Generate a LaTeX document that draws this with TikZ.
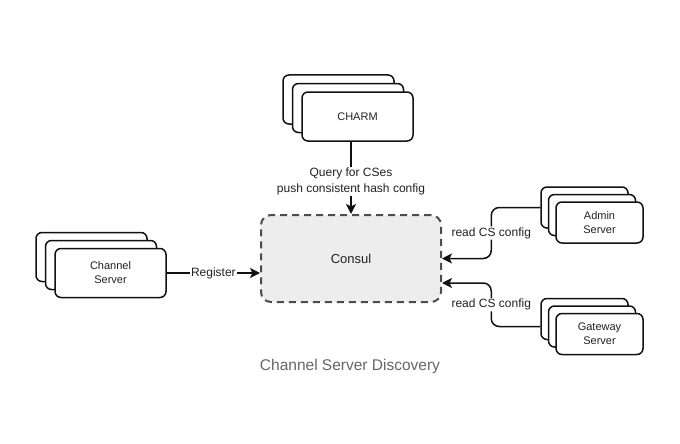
\documentclass[tikz,border=0pt]{standalone}
\usepackage{fontspec}
\setmainfont{Liberation Sans}
\usetikzlibrary{arrows.meta,calc}
\definecolor{txt}{HTML}{222222}
\definecolor{edge}{HTML}{111111}
\begin{document}
\begin{tikzpicture}[x=1pt,y=-1pt,
 box/.style={draw=edge, line width=1.5pt, fill=white, rounded corners=6pt,
   minimum width=111pt, minimum height=49pt, inner sep=0pt, text=txt,
   font=\fontsize{11}{14}\selectfont, align=center},
 sbox/.style={box, minimum width=87pt, minimum height=41pt},
 arr/.style={draw=edge, line width=1.5pt, -{Stealth[length=10pt,width=10pt,inset=2.5pt]}},
 lbl/.style={fill=white, inner sep=1pt, text=txt, font=\fontsize{12}{16}\selectfont, align=center}
]
\useasboundingbox (0,0) rectangle (680,444);
\fill[white] (0,0) rectangle (680,444);

% CHARM stack
\node[box] (ch3) at (338.5,99.5) {};
\node[box] (ch2) at (348,108) {};
\node[box] (ch1) at (357.5,116.5) {CHARM};

% Channel Server stack
\node[box] (cs3) at (91.5,257) {};
\node[box] (cs2) at (101,265) {};
\node[box] (cs1) at (110.5,273) {Channel\\Server};

% Admin Server stack
\node[sbox] (ad3) at (584.5,207.5) {};
\node[sbox] (ad2) at (592,215) {};
\node[sbox] (ad1) at (599.5,222.5) {Admin\\Server};

% Gateway Server stack
\node[sbox] (gw3) at (584.5,319) {};
\node[sbox] (gw2) at (592,326.5) {};
\node[sbox] (gw1) at (599.5,334) {Gateway\\Server};

% Consul
\node[draw=black!70, fill=black!7, line width=2pt, dash pattern=on 7pt off 5pt,
  rounded corners=10pt, minimum width=180pt, minimum height=87pt, text=txt,
  font=\fontsize{13}{15}\selectfont] (consul) at (351,258.5) {Consul};
\coordinate (cin) at ($(consul.east)+(0,24.5)$);

% connectors
\draw[arr] (consul.north |- ch1.south) -- node[lbl, pos=0.55]{Query for CSes\\push consistent hash config} (consul.north);
\draw[arr] (cs1.east) -- node[lbl]{Register} (cs1.east -| consul.west);
\draw[arr, rounded corners=8pt] (ad3.west) -- ++(-49,0) |- node[lbl,pos=0.25]{read CS config} (consul.east);
\draw[arr, rounded corners=8pt] (gw3.west |- gw2.center) -- ++(-49,0) |- node[lbl,pos=0.25]{read CS config} (cin);

% caption
\node[text=black!60, font=\fontsize{15.5}{18}\selectfont] (cap) at (350,366) {Channel Server Discovery};
\end{tikzpicture}
\end{document}
